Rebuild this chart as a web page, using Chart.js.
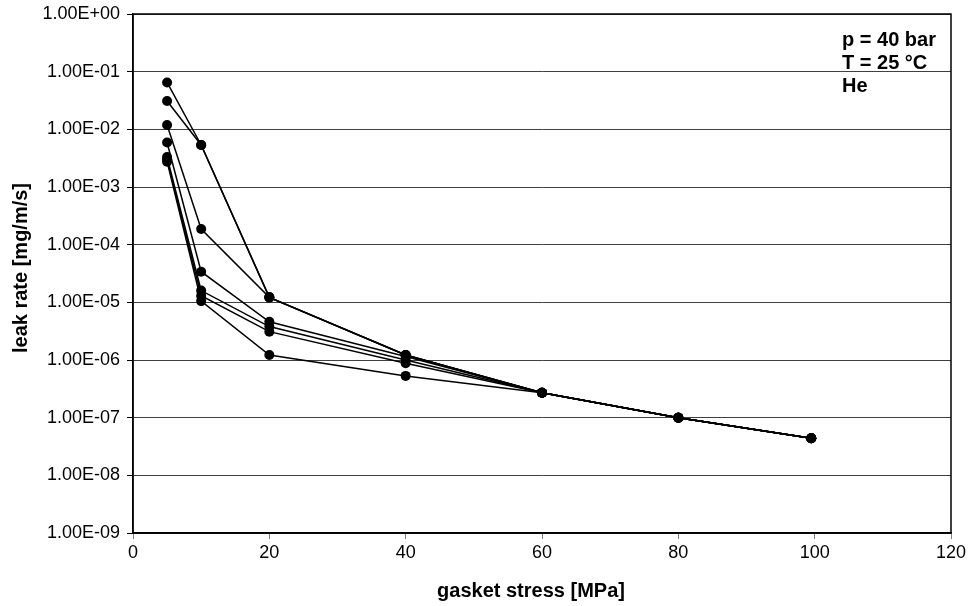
<!DOCTYPE html>
<html>
<head>
<meta charset="utf-8">
<title>leak rate vs gasket stress</title>
<script src="https://cdn.jsdelivr.net/npm/chart.js@4/dist/chart.umd.min.js"></script>
<style>
  html, body { margin: 0; padding: 0; background: #fff; }
  canvas { display: block; }
</style>
</head>
<body>
<canvas id="leakChart" width="970" height="606"></canvas>
<script>
// gasket stress steps [MPa]
const stress = [5, 10, 20, 40, 60, 80, 99.5];

// leak rates [mg/m/s] per test run
const run1 = [6.5e-2, 5.35e-3, 1.22e-5, 1.22e-6, 2.7e-7, 1.0e-7, 4.4e-8];
const run2 = [3.1e-2, 5.35e-3, 1.22e-5, 1.22e-6, 2.7e-7, 1.0e-7, 4.4e-8];
const run3 = [1.19e-2, 1.87e-4, 1.22e-5, 1.22e-6, 2.7e-7, 1.0e-7, 4.4e-8];
const run4 = [5.9e-3, 3.4e-5, 4.6e-6, 1.15e-6, 2.7e-7, 1.0e-7, 4.4e-8];
const run5 = [3.3e-3, 1.6e-5, 3.8e-6, 1.0e-6, 2.7e-7, 1.0e-7, 4.4e-8];
const run6 = [3.0e-3, 1.3e-5, 3.1e-6, 8.8e-7, 2.7e-7, 1.0e-7, 4.4e-8];
const run7 = [2.75e-3, 1.05e-5, 1.22e-6, 5.3e-7, 2.7e-7, 1.0e-7, 4.4e-8];
const runs = [run1, run2, run3, run4, run5, run6, run7];

// y axis: one tick per decade
const decades = [0, -1, -2, -3, -4, -5, -6, -7, -8, -9];
const xTickStep = 20;

const notes = ['p = 40 bar', 'T = 25 °C', 'He'];
const xTitle = 'gasket stress [MPa]';
const yTitle = 'leak rate [mg/m/s]';

const FONT = '"Liberation Sans", Arial, sans-serif';

function fmtDecade(v) {
    const e = Math.round(Math.log10(v));
    return '1.00E' + (e < 0 ? '-' : '+') + String(Math.abs(e)).padStart(2, '0');
}

// frame around plot area + free text (titles, test conditions)
const frameAndText = {
    id: 'frameAndText',
    afterDraw(chart) {
        const { ctx, chartArea: a } = chart;
        ctx.save();
        ctx.strokeStyle = '#000';
        ctx.lineWidth = 1.5;
        ctx.strokeRect(a.left, a.top, a.right - a.left, a.bottom - a.top);

        ctx.fillStyle = '#000';
        ctx.font = 'bold 20px ' + FONT;
        ctx.textAlign = 'left';
        ctx.textBaseline = 'alphabetic';
        notes.forEach((t, i) => ctx.fillText(t, 842, 46 + i * 23));

        ctx.textAlign = 'center';
        ctx.fillText(xTitle, 531, 597);

        ctx.translate(27, 268);
        ctx.rotate(-Math.PI / 2);
        ctx.fillText(yTitle, 0, 0);
        ctx.restore();
    }
};

const ctx = document.getElementById('leakChart').getContext('2d');
new Chart(ctx, {
    type: 'line',
    data: {
        datasets: runs.map((r, i) => ({
            label: 'run ' + (i + 1),
            data: r.map((v, j) => ({ x: stress[j], y: v })),
            borderColor: '#000',
            borderWidth: 1.5,
            backgroundColor: '#000',
            pointBackgroundColor: '#000',
            pointBorderWidth: 0,
            pointRadius: 5,
            tension: 0,
            fill: false
        }))
    },
    options: {
        responsive: false,
        animation: false,
        layout: { padding: { top: 14, right: 19, left: 0, bottom: 0 } },
        plugins: {
            legend: { display: false },
            tooltip: { enabled: false }
        },
        scales: {
            x: {
                type: 'linear',
                min: 0,
                max: 120,
                ticks: {
                    stepSize: xTickStep,
                    color: '#000',
                    font: { family: FONT, size: 18 },
                    padding: 3,
                    maxRotation: 0
                },
                grid: {
                    drawOnChartArea: false,
                    drawTicks: true,
                    tickLength: 6,
                    color: '#808080'
                },
                border: { color: '#000', width: 1.5 },
                afterFit: s => { s.height = 73; }
            },
            y: {
                type: 'logarithmic',
                min: 1e-9,
                max: 1,
                afterBuildTicks: s => {
                    s.ticks = decades.map(e => ({ value: Math.pow(10, e) }));
                },
                ticks: {
                    callback: v => fmtDecade(v),
                    color: '#000',
                    font: { family: FONT, size: 18 },
                    padding: 7,
                    autoSkip: false
                },
                grid: {
                    color: '#404040',
                    lineWidth: 1,
                    tickLength: 6,
                    tickColor: '#000'
                },
                border: { color: '#000', width: 1.5 },
                afterFit: s => {
                    s.width = 133;
                    s.paddingTop = 0;
                    s.paddingBottom = 0;
                }
            }
        }
    },
    plugins: [frameAndText]
});
</script>
</body>
</html>
